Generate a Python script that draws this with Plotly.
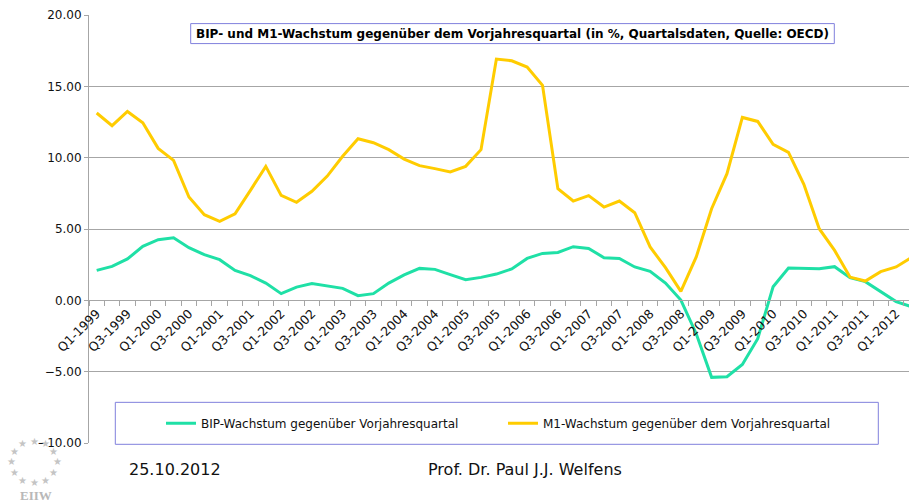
import math
import plotly.graph_objects as go

# quarters Q1-1999 .. Q2-2012
quarters = [f"Q{q}-{y}" for y in range(1999, 2013) for q in range(1, 5)][:54]

bip_growth = [2.10, 2.38, 2.90, 3.78, 4.25, 4.39, 3.69, 3.20, 2.85, 2.10,
              1.73, 1.21, 0.47, 0.93, 1.17, 1.03, 0.84, 0.33, 0.47, 1.21,
              1.78, 2.24, 2.17, 1.80, 1.45, 1.61, 1.84, 2.20, 2.94, 3.29,
              3.36, 3.76, 3.64, 2.99, 2.94, 2.34, 2.03, 1.21, 0.02, -2.34,
              -5.40, -5.35, -4.50, -2.69, 0.95, 2.27, 2.27, 2.22, 2.36, 1.59,
              1.31, 0.61, -0.09, -0.45]

m1_growth = [13.13, 12.24, 13.24, 12.45, 10.65, 9.81, 7.24, 6.00, 5.54, 6.07,
             7.71, 9.39, 7.36, 6.87, 7.64, 8.71, 10.10, 11.33, 11.05, 10.56,
             9.90, 9.44, 9.23, 9.00, 9.39, 10.56, 16.91, 16.79, 16.35, 15.07,
             7.83, 6.96, 7.34, 6.54, 6.96, 6.14, 3.74, 2.29, 0.63, 3.04,
             6.42, 8.88, 12.82, 12.54, 10.93, 10.37, 8.13, 5.02, 3.50, 1.63,
             1.35, 2.01, 2.34, 3.00]

series_names = ["BIP-Wachstum gegenüber Vorjahresquartal",
                "M1-Wachstum gegenüber dem Vorjahresquartal"]
title_text = "BIP- und M1-Wachstum gegenüber dem Vorjahresquartal (in %, Quartalsdaten, Quelle: OECD)"

FONT = "DejaVu Sans"
GRID = "#a6a6a6"
BOX = "#8080dd"

# plot area in pixels: left 89, right 909, top 14.7, bottom 443
L, R, T, B = 89.0, 909.0, 14.7, 443.0


def px_x(x):
    return (x - L) / (R - L)


def px_y(y):
    return (B - y) / (B - T)


fig = go.Figure()
fig.add_trace(go.Scatter(x=quarters, y=bip_growth, mode="lines", name=series_names[0],
                         line=dict(color="#1fe0a6", width=3), legend="legend"))
fig.add_trace(go.Scatter(x=quarters, y=m1_growth, mode="lines", name=series_names[1],
                         line=dict(color="#ffcc00", width=3), legend="legend2"))

ticktext = [q if i % 2 == 0 else "" for i, q in enumerate(quarters)]
fig.update_xaxes(type="category", range=[-0.5, 52.84], tickmode="array",
                 tickvals=quarters, ticktext=ticktext, tickangle=-45,
                 tickson="boundaries", ticks="outside", ticklen=5, tickcolor=GRID,
                 showline=True, linecolor=GRID, linewidth=1, showgrid=False,
                 anchor="free", position=1 / 3, automargin=False,
                 tickfont=dict(family=FONT, size=12.5, color="#111"))
fig.update_yaxes(range=[-10, 20], dtick=5, tickformat=".2f", showgrid=True,
                 gridcolor=GRID, gridwidth=1, zeroline=False, showline=True,
                 linecolor=GRID, ticks="outside", ticklen=4, tickcolor=GRID,
                 automargin=False,
                 tickfont=dict(family=FONT, size=12, color="#111"))

# title box and legend box
fig.add_shape(type="rect", xref="paper", yref="paper",
              x0=px_x(190.7), x1=px_x(834.3), y0=px_y(43.3), y1=px_y(23.3),
              line=dict(color=BOX, width=1), fillcolor="white", layer="above")
fig.add_shape(type="rect", xref="paper", yref="paper",
              x0=px_x(115.3), x1=px_x(878.3), y0=px_y(444.3), y1=px_y(402.3),
              line=dict(color=BOX, width=1), fillcolor="white", layer="above")

annotations = [
    dict(text=f"<b>{title_text}</b>", x=px_x(512.5), y=px_y(33.3), xanchor="center",
         yanchor="middle", font=dict(family=FONT, size=12, color="#000")),
    dict(text="25.10.2012", x=px_x(127), y=px_y(470), xanchor="left", yanchor="middle",
         font=dict(family=FONT, size=16, color="#111")),
    dict(text="Prof. Dr. Paul J.J. Welfens", x=px_x(426), y=px_y(470), xanchor="left",
         yanchor="middle", font=dict(family=FONT, size=16, color="#111")),
    dict(text="<b>EIIW</b>", x=px_x(36), y=px_y(496), xanchor="center", yanchor="middle",
         font=dict(family="Liberation Serif", size=13, color="#b8b8b8")),
]
# star ring of the logo
for k in range(12):
    a = math.radians(90 - 30 * k)
    annotations.append(dict(text="★", x=px_x(34 + 23 * math.cos(a)), y=px_y(462 - 21 * math.sin(a)),
                            xanchor="center", yanchor="middle",
                            font=dict(family=FONT, size=10, color="#c4c4c4")))
for a in annotations:
    a.update(xref="paper", yref="paper", showarrow=False)

legend_style = dict(orientation="h", xanchor="left", yanchor="middle", y=px_y(423.3),
                    bgcolor="rgba(0,0,0,0)", borderwidth=0,
                    font=dict(family=FONT, size=12, color="#111"))

fig.update_layout(
    width=909, height=501,
    margin=dict(l=89, r=0, t=15, b=58, autoexpand=False),
    plot_bgcolor="white", paper_bgcolor="white",
    showlegend=True,
    legend=dict(x=px_x(161), **legend_style),
    legend2=dict(x=px_x(503), **legend_style),
    annotations=annotations,
)

# drop the browser's default 8px body margin so the figure fills the window
fig.write_html("out.html", config={"displayModeBar": False},
               post_script="document.body.style.margin='0';")
